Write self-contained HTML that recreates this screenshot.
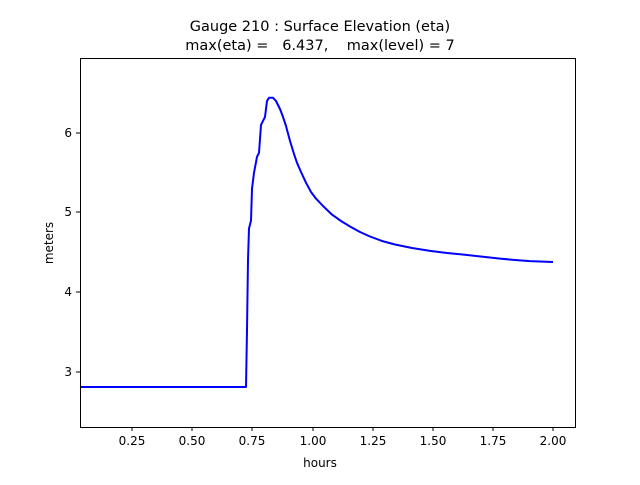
<!DOCTYPE html>
<html><head><meta charset="utf-8"><style>
body{margin:0;background:#fff}
svg text{font-family:"DejaVu Sans","Liberation Sans",sans-serif;fill:#000}
</style></head><body>
<svg width="640" height="480" viewBox="0 0 640 480" xmlns="http://www.w3.org/2000/svg">
<rect width="640" height="480" fill="#fff"/>
<text x="320" y="31" font-size="14.5" text-anchor="middle">Gauge 210 : Surface Elevation (eta)</text>
<text x="320" y="50" font-size="14.5" text-anchor="middle" xml:space="preserve">max(eta) =   6.437,    max(level) = 7</text>
<polyline fill="none" stroke="#0000ff" stroke-width="2" stroke-linejoin="round" points="80,387 246,387 247,330 248,260 249,228.5 251,220.6 252,188.7 254,172.8 257,156.8 259,152.8 261,124.9 265,116.9 267,101 269,97.8 273,97.8 276,101 280,109 283,116.9 286,126 290,140.9 294,154 297,162.8 301,172 306,182.7 311,192 316,198.6 323,206 332,214.6 341,221 350,226.5 360,232 370,236.5 382,241 395,244.5 412,248 430,250.9 447,253 465,254.8 483,256.8 500,258.6 515,260 530,261.1 553,262"/>
<rect x="80.5" y="58.5" width="495" height="369" fill="none" stroke="#000" stroke-width="1"/>
<g stroke="#000">
<line x1="132" y1="427" x2="132" y2="431"/><line x1="192" y1="427" x2="192" y2="431"/><line x1="252" y1="427" x2="252" y2="431"/><line x1="313" y1="427" x2="313" y2="431"/><line x1="373" y1="427" x2="373" y2="431"/><line x1="433" y1="427" x2="433" y2="431"/><line x1="493" y1="427" x2="493" y2="431"/><line x1="553" y1="427" x2="553" y2="431"/>
<line x1="76" y1="372" x2="80" y2="372"/><line x1="76" y1="292" x2="80" y2="292"/><line x1="76" y1="212" x2="80" y2="212"/><line x1="76" y1="133" x2="80" y2="133"/>
</g>
<g font-size="12" text-anchor="middle">
<text x="132" y="445">0.25</text><text x="192" y="445">0.50</text><text x="252" y="445">0.75</text><text x="313" y="445">1.00</text><text x="373" y="445">1.25</text><text x="433" y="445">1.50</text><text x="493" y="445">1.75</text><text x="553" y="445">2.00</text>
<text x="320" y="467">hours</text>
</g>
<g font-size="12" text-anchor="end">
<text x="72" y="376">3</text><text x="72" y="296">4</text><text x="72" y="216">5</text><text x="72" y="137">6</text>
</g>
<text transform="translate(53,243) rotate(-90)" font-size="12" text-anchor="middle">meters</text>
</svg>
</body></html>
